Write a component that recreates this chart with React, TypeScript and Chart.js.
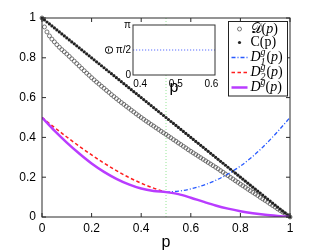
import React, { useEffect, useRef } from "react";
import { Chart, registerables } from "chart.js";
Chart.register(...registerables);

// ---------- data ----------
const pGrid = [0,0.01,0.02,0.03,0.04,0.05,0.06,0.07,0.08,0.09,0.1,0.11,0.12,0.13,0.14,0.15,0.16,0.17,0.18,0.19,0.2,0.21,0.22,0.23,0.24,0.25,0.26,0.27,0.28,0.29,0.3,0.31,0.32,0.33,0.34,0.35,0.36,0.37,0.38,0.39,0.4,0.41,0.42,0.43,0.44,0.45,0.46,0.47,0.48,0.49,0.5,0.51,0.52,0.53,0.54,0.55,0.56,0.57,0.58,0.59,0.6,0.61,0.62,0.63,0.64,0.65,0.66,0.67,0.68,0.69,0.7,0.71,0.72,0.73,0.74,0.75,0.76,0.77,0.78,0.79,0.8,0.81,0.82,0.83,0.84,0.85,0.86,0.87,0.88,0.89,0.9,0.91,0.92,0.93,0.94,0.95,0.96,0.97,0.98,0.99,1];
const dValues = [1.0,0.955,0.93,0.91,0.894,0.88,0.866,0.853,0.841,0.83,0.819,0.807,0.795,0.783,0.771,0.759,0.747,0.735,0.723,0.712,0.7,0.689,0.678,0.668,0.657,0.647,0.636,0.626,0.615,0.605,0.595,0.585,0.575,0.566,0.556,0.547,0.537,0.528,0.518,0.509,0.5,0.491,0.482,0.474,0.465,0.457,0.448,0.44,0.431,0.423,0.415,0.406,0.398,0.389,0.381,0.372,0.364,0.355,0.347,0.338,0.33,0.322,0.314,0.306,0.298,0.29,0.282,0.274,0.266,0.258,0.25,0.242,0.233,0.225,0.216,0.208,0.199,0.191,0.182,0.174,0.165,0.157,0.149,0.14,0.132,0.124,0.116,0.108,0.099,0.091,0.083,0.075,0.066,0.058,0.05,0.041,0.033,0.025,0.017,0.008,0];
const cValues = [1,0.99,0.98,0.97,0.96,0.95,0.94,0.93,0.92,0.91,0.9,0.89,0.88,0.87,0.86,0.85,0.84,0.83,0.82,0.81,0.8,0.79,0.78,0.77,0.76,0.75,0.74,0.73,0.72,0.71,0.7,0.69,0.68,0.67,0.66,0.65,0.64,0.63,0.62,0.61,0.6,0.59,0.58,0.57,0.56,0.55,0.54,0.53,0.52,0.51,0.5,0.49,0.48,0.47,0.46,0.45,0.44,0.43,0.42,0.41,0.4,0.39,0.38,0.37,0.36,0.35,0.34,0.33,0.32,0.31,0.3,0.29,0.28,0.27,0.26,0.25,0.24,0.23,0.22,0.21,0.2,0.19,0.18,0.17,0.16,0.15,0.14,0.13,0.12,0.11,0.1,0.09,0.08,0.07,0.06,0.05,0.04,0.03,0.02,0.01,0];
const pLeft = [0,0.05,0.1,0.15,0.2,0.25,0.3,0.35,0.4,0.45,0.5];
const d2gValues = [0.5,0.45,0.402,0.356,0.312,0.271,0.233,0.199,0.17,0.145,0.125];
const pRight = [0.5,0.55,0.6,0.65,0.7,0.75,0.8,0.85,0.9,0.95,1];
const d1gValues = [0.125,0.13,0.141,0.159,0.184,0.216,0.256,0.305,0.363,0.429,0.5];
const pFull = [0,0.05,0.1,0.15,0.2,0.25,0.3,0.35,0.4,0.45,0.5,0.55,0.6,0.65,0.7,0.75,0.8,0.85,0.9,0.95,1];
const dgValues = [0.5,0.434,0.374,0.319,0.269,0.227,0.192,0.164,0.143,0.131,0.125,0.115,0.097,0.077,0.058,0.042,0.029,0.019,0.011,0.005,0];
const midP = [0.5, 0.5];
const midY = [0, 1];
const xTicks = [0, 0.2, 0.4, 0.6, 0.8, 1];
const yTicks = [0, 0.2, 0.4, 0.6, 0.8, 1];

const insetP = [0.38, 0.61];
const insetTheta = [Math.PI / 2, Math.PI / 2];
const insetXTicks = [0.4, 0.5, 0.6];
const insetYTicks = [0, Math.PI / 2, Math.PI];
const insetYLabels = ["0", "π/2", "π"];

// ---------- styles ----------
const SANS = '"Liberation Sans", Arial, Helvetica, sans-serif';
const SERIF = '"Liberation Serif", "DejaVu Serif", "Times New Roman", serif';
const PURPLE = "rgb(185, 60, 255)";
const RED = "rgb(255, 30, 30)";
const BLUE = "rgb(40, 90, 255)";

const pts = (xs: number[], ys: number[]) => xs.map((x, i) => ({ x, y: ys[i] }));

type Part = { text: string; font: string; dy?: number } | { sub: string; sup: string; font: string };

function drawRich(ctx: CanvasRenderingContext2D, x: number, y: number, parts: Part[]) {
  let cx = x;
  ctx.textBaseline = "middle";
  ctx.textAlign = "left";
  for (const p of parts) {
    ctx.font = p.font;
    if ("text" in p) {
      ctx.fillText(p.text, cx, y + (p.dy || 0));
      cx += ctx.measureText(p.text).width;
    } else {
      ctx.fillText(p.sup, cx, y - 5);
      ctx.fillText(p.sub, cx, y + 4.5);
      cx += Math.max(ctx.measureText(p.sup).width, ctx.measureText(p.sub).width) + 0.8;
    }
  }
}

const mainFrame = {
  id: "mainFrame",
  afterDatasetsDraw(chart: any) {
    const { ctx, chartArea: a, scales } = chart;
    ctx.save();
    ctx.strokeStyle = "#2a2a2a";
    ctx.lineWidth = 1;
    ctx.beginPath();
    const tl = 4;
    for (const t of scales.x.ticks) {
      const px = scales.x.getPixelForValue(t.value);
      ctx.moveTo(px, a.bottom); ctx.lineTo(px, a.bottom - tl);
      ctx.moveTo(px, a.top); ctx.lineTo(px, a.top + tl);
    }
    for (const t of scales.y.ticks) {
      const py = scales.y.getPixelForValue(t.value);
      ctx.moveTo(a.left, py); ctx.lineTo(a.left + tl, py);
      ctx.moveTo(a.right, py); ctx.lineTo(a.right - tl, py);
    }
    ctx.stroke();
    ctx.strokeRect(a.left, a.top, a.right - a.left, a.bottom - a.top);
    ctx.restore();
  },
  afterDraw(chart: any) {
    const { ctx, chartArea: a } = chart;
    const bw = 59, bh = 74.5;
    const bx = a.right - 2.5 - bw, by = a.top + 3.5;
    ctx.save();
    ctx.fillStyle = "#fff";
    ctx.fillRect(bx, by, bw, bh);
    ctx.strokeStyle = "#222";
    ctx.lineWidth = 1;
    ctx.strokeRect(bx, by, bw, bh);
    const rows = [by + 7.5, by + 21, by + 36, by + 51, by + 66];
    const mx = bx + 11, lx0 = bx + 3, lx1 = bx + 19, tx = bx + 22;
    ctx.beginPath(); ctx.arc(mx, rows[0], 2, 0, Math.PI * 2);
    ctx.strokeStyle = "#555"; ctx.lineWidth = 0.8; ctx.stroke();
    ctx.beginPath(); ctx.arc(mx, rows[1], 1.6, 0, Math.PI * 2);
    ctx.fillStyle = "#222"; ctx.fill();
    ctx.lineWidth = 1.3; ctx.strokeStyle = BLUE; ctx.setLineDash([4, 2, 1, 2]);
    ctx.beginPath(); ctx.moveTo(lx0, rows[2]); ctx.lineTo(lx1, rows[2]); ctx.stroke();
    ctx.strokeStyle = RED; ctx.lineWidth = 1.5; ctx.setLineDash([3.5, 2.5]);
    ctx.beginPath(); ctx.moveTo(lx0, rows[3]); ctx.lineTo(lx1, rows[3]); ctx.stroke();
    ctx.strokeStyle = PURPLE; ctx.lineWidth = 2.5; ctx.setLineDash([]);
    ctx.beginPath(); ctx.moveTo(lx0, rows[4]); ctx.lineTo(lx1, rows[4]); ctx.stroke();

    ctx.fillStyle = "#000";
    const it = `italic 14px ${SERIF}`;
    const rm = `14px ${SERIF}`;
    const smi = `italic 10px ${SERIF}`;
    drawRich(ctx, tx, rows[0], [{ text: "𝒟", font: rm }, { text: "(", font: rm }, { text: "p", font: it }, { text: ")", font: rm }]);
    drawRich(ctx, tx, rows[1], [{ text: "C(p)", font: rm }]);
    drawRich(ctx, tx, rows[2], [{ text: "D", font: it }, { sub: "1", sup: "g", font: smi }, { text: "(", font: rm }, { text: "p", font: it }, { text: ")", font: rm }]);
    drawRich(ctx, tx, rows[3], [{ text: "D", font: it }, { sub: "2", sup: "g", font: smi }, { text: "(", font: rm }, { text: "p", font: it }, { text: ")", font: rm }]);
    drawRich(ctx, tx, rows[4], [{ text: "D", font: it }, { text: "g", font: smi, dy: -5 }, { text: "(", font: rm }, { text: "p", font: it }, { text: ")", font: rm }]);
    ctx.restore();
  },
};

const insetFrame = {
  id: "insetFrame",
  beforeDatasetsDraw(chart: any) {
    const { ctx, chartArea: a } = chart;
    ctx.save();
    ctx.fillStyle = "#fff";
    ctx.fillRect(a.left, a.top, a.right - a.left, a.bottom - a.top);
    ctx.restore();
  },
  afterDatasetsDraw(chart: any) {
    const { ctx, chartArea: a } = chart;
    ctx.save();
    ctx.strokeStyle = "#333";
    ctx.lineWidth = 1;
    ctx.strokeRect(a.left, a.top, a.right - a.left, a.bottom - a.top);
    ctx.restore();
  },
};

export default function App() {
  const mainRef = useRef<HTMLCanvasElement>(null);
  const insetRef = useRef<HTMLCanvasElement>(null);

  useEffect(() => {
    const main = new Chart(mainRef.current!, {
      type: "scatter",
      data: {
        datasets: [
          { data: pts(pFull, dgValues), showLine: true, borderColor: PURPLE, borderWidth: 2.5, pointRadius: 0, cubicInterpolationMode: "monotone", order: 1 } as any,
          { data: pts(pLeft, d2gValues), showLine: true, borderColor: RED, borderWidth: 1.5, borderDash: [3.5, 2.5], pointRadius: 0, cubicInterpolationMode: "monotone", order: 2 } as any,
          { data: pts(pRight, d1gValues), showLine: true, borderColor: BLUE, borderWidth: 1.3, borderDash: [4, 2, 1, 2], pointRadius: 0, cubicInterpolationMode: "monotone", order: 3 } as any,
          { data: pts(pGrid, cValues), showLine: false, pointRadius: 1.6, pointBackgroundColor: "#222", pointBorderColor: "#222", pointBorderWidth: 0, clip: 4, order: 4 } as any,
          { data: pts(pGrid, dValues), showLine: false, pointRadius: 2, pointBackgroundColor: "rgba(0,0,0,0)", pointBorderColor: "#555", pointBorderWidth: 0.8, clip: 4, order: 5 } as any,
          { data: pts(midP, midY), showLine: true, borderColor: "rgb(150, 230, 150)", borderWidth: 1, borderDash: [1, 2], pointRadius: 0, order: 6 } as any,
        ],
      },
      options: {
        animation: false,
        responsive: false,
        events: [],
        layout: { padding: { top: 18, right: 30, left: 0, bottom: 0 } },
        plugins: { legend: { display: false }, tooltip: { enabled: false } },
        scales: {
          x: {
            type: "linear", min: 0, max: 1,
            afterBuildTicks: (s: any) => { s.ticks = xTicks.map((v) => ({ value: v })); },
            afterFit: (s: any) => { s.height = 34; },
            grid: { display: false, drawTicks: false },
            border: { display: false },
            ticks: { color: "#000", padding: 4, maxRotation: 0, autoSkip: false, font: { family: SANS, size: 12 }, callback: (v: any) => String(v) },
            title: { display: true, text: "p", color: "#000", font: { family: SANS, size: 16, lineHeight: 1 }, padding: { top: 0, bottom: 0 } },
          },
          y: {
            type: "linear", min: 0, max: 1,
            afterBuildTicks: (s: any) => { s.ticks = yTicks.map((v) => ({ value: v })); },
            afterFit: (s: any) => { s.width = 42; },
            grid: { display: false, drawTicks: false },
            border: { display: false },
            ticks: { color: "#000", padding: 6, autoSkip: false, font: { family: SANS, size: 12 }, callback: (v: any) => String(v) },
          },
        },
      } as any,
      plugins: [mainFrame],
    });

    const inset = new Chart(insetRef.current!, {
      type: "scatter",
      data: {
        datasets: [
          { data: pts(insetP, insetTheta), showLine: true, borderColor: "rgb(90, 110, 255)", borderWidth: 1.2, borderDash: [1.2, 1.8], pointRadius: 0 } as any,
        ],
      },
      options: {
        animation: false,
        responsive: false,
        events: [],
        layout: { padding: { top: 13, right: 15, left: 0, bottom: 0 } },
        plugins: { legend: { display: false }, tooltip: { enabled: false } },
        scales: {
          x: {
            type: "linear", min: insetP[0], max: insetP[1],
            afterBuildTicks: (s: any) => { s.ticks = insetXTicks.map((v) => ({ value: v })); },
            afterFit: (s: any) => { s.height = 25; },
            grid: { display: false, drawTicks: false },
            border: { display: false },
            ticks: { color: "#000", padding: 3, maxRotation: 0, autoSkip: false, font: { family: SANS, size: 10 }, callback: (v: any) => String(v) },
            title: { display: true, text: "p", color: "#000", font: { family: SANS, size: 16, lineHeight: 1 }, padding: { top: 0, bottom: 4 } },
          },
          y: {
            type: "linear", min: 0, max: Math.PI,
            afterBuildTicks: (s: any) => { s.ticks = insetYTicks.map((v) => ({ value: v })); },
            afterFit: (s: any) => { s.width = 43; },
            grid: { display: false, drawTicks: false },
            border: { display: false },
            ticks: { color: "#000", padding: 2, autoSkip: false, font: { family: SANS, size: 10 }, callback: (_v: any, i: number) => insetYLabels[i] },
            title: { display: true, text: "Θ", color: "#000", font: { family: SANS, size: 11, lineHeight: 1 }, padding: { top: 14, bottom: 0 } },
          },
        },
      } as any,
      plugins: [insetFrame],
    });

    return () => {
      main.destroy();
      inset.destroy();
    };
  }, []);

  return (
    <div style={{ position: "fixed", left: 0, top: 0, width: 320, height: 251, background: "#fff" }}>
      <canvas ref={mainRef} width={320} height={251} style={{ position: "absolute", left: 0, top: 0, width: 320, height: 251 }} />
      <canvas ref={insetRef} width={140} height={88} style={{ position: "absolute", left: 90, top: 12, width: 140, height: 88 }} />
    </div>
  );
}
